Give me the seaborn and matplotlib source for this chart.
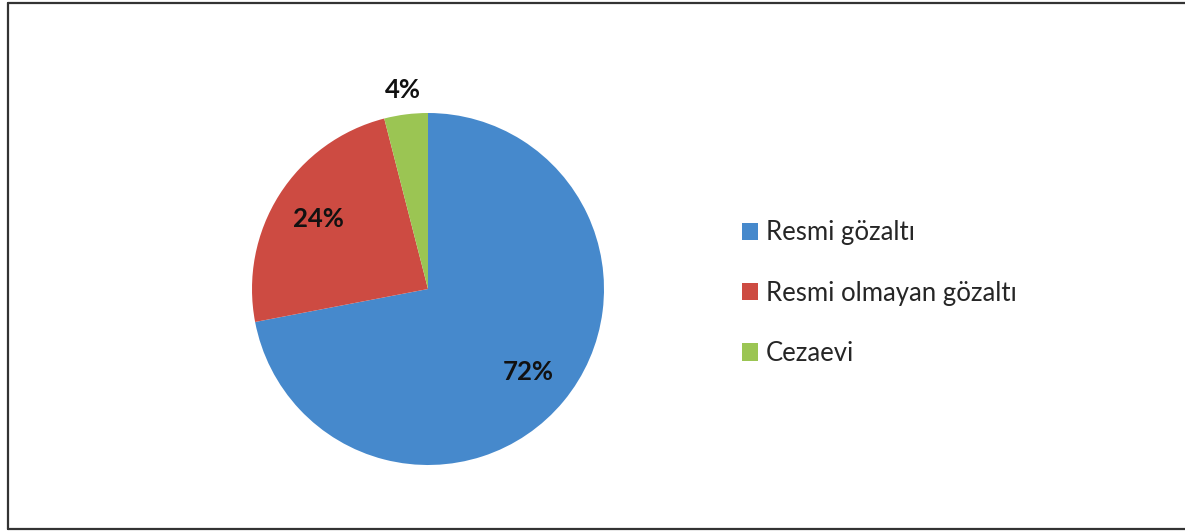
import matplotlib
matplotlib.use("Agg")
import matplotlib.pyplot as plt
import seaborn as sns
import numpy as np
from matplotlib.patches import Patch
from matplotlib.lines import Line2D

categories = ["Resmi gözaltı", "Resmi olmayan gözaltı", "Cezaevi"]
values = [72, 24, 4]
colors = ["#4689CC", "#CD4B42", "#9BC553"]

sns.set_theme(style="white")
plt.rcParams["font.family"] = ["Lato", "DejaVu Sans"]

fig = plt.figure(figsize=(11.85, 5.32), dpi=100)
ax = fig.add_axes([252 / 1185, 67 / 532, 352 / 1185, 352 / 532])

wedges, texts, autotexts = ax.pie(
    values, colors=colors, startangle=90, counterclock=False,
    autopct=lambda p: f"{p:.0f}%", pctdistance=0.74,
    wedgeprops=dict(linewidth=0),
    textprops=dict(fontsize=18.5, fontweight="bold", color="#111111"))
ax.set_xlim(-1, 1)
ax.set_ylim(-1, 1)
ax.set_aspect("equal")

# small slice label sits outside the pie
w = wedges[2]
mid = np.deg2rad((w.theta1 + w.theta2) / 2)
autotexts[2].set_position((1.14 * np.cos(mid), 1.14 * np.sin(mid)))

handles = [Patch(facecolor=c, edgecolor="none") for c in colors]
fig.legend(handles, categories, loc="center left", bbox_to_anchor=(0.615, 0.449),
           frameon=False, fontsize=18.5, labelspacing=1.38, handlelength=0.65,
           handleheight=0.65, handletextpad=0.3, borderpad=0)

# frame lines (left, top, bottom)
for xs, ys in [([7.5, 7.5], [3, 529]), ([7.5, 1185], [3, 3]), ([7.5, 1185], [529, 529])]:
    fig.add_artist(Line2D([x / 1185 for x in xs], [1 - y / 532 for y in ys],
                          color="#333333", linewidth=1.6))

fig.savefig("out.png", dpi=100)
